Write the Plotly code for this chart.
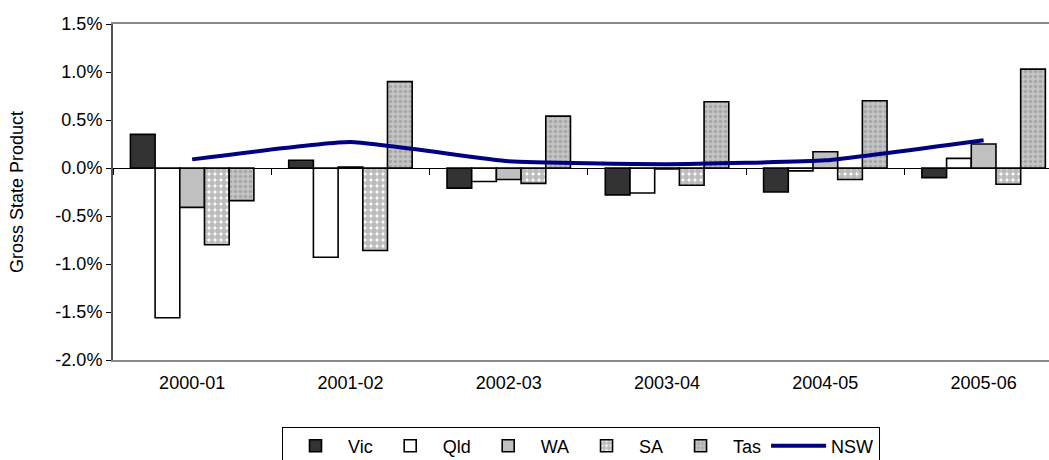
import plotly.graph_objects as go

# Change in Gross State Product, by financial year (percentage points)
years = ["2000-01", "2001-02", "2002-03", "2003-04", "2004-05", "2005-06"]
vic = [0.35, 0.08, -0.21, -0.28, -0.25, -0.10]
qld = [-1.56, -0.93, -0.14, -0.26, -0.03, 0.10]
wa = [-0.41, 0.01, -0.12, -0.01, 0.17, 0.25]
sa = [-0.80, -0.86, -0.16, -0.18, -0.12, -0.17]
tas = [-0.34, 0.90, 0.54, 0.69, 0.70, 1.03]
nsw = [0.09, 0.27, 0.07, 0.04, 0.08, 0.29]

y_ticks = [-2.0, -1.5, -1.0, -0.5, 0.0, 0.5, 1.0, 1.5]
y_tick_text = [f"{v:.1f}%" for v in y_ticks]

FONT = "Liberation Sans, Arial, sans-serif"
FS = 18
EDGE = dict(color="black", width=1.6)

fig = go.Figure()

fig.add_trace(go.Bar(name="Vic", x=years, y=vic,
                     marker=dict(color="#333333", line=EDGE)))
fig.add_trace(go.Bar(name="Qld", x=years, y=qld,
                     marker=dict(color="white", line=EDGE)))
fig.add_trace(go.Bar(name="WA", x=years, y=wa,
                     marker=dict(color="#c0c0c0", line=EDGE)))
fig.add_trace(go.Bar(name="SA", x=years, y=sa,
                     marker=dict(color="white", line=EDGE,
                                 pattern=dict(shape=".", fgcolor="#777777",
                                              bgcolor="white", size=6,
                                              solidity=0.75))))
fig.add_trace(go.Bar(name="Tas", x=years, y=tas,
                     marker=dict(color="#bdbdbd", line=EDGE,
                                 pattern=dict(shape=".", fgcolor="#8a8a8a",
                                              bgcolor="#c4c4c4", size=5,
                                              solidity=0.4))))
fig.add_trace(go.Scatter(name="NSW", x=years, y=nsw, mode="lines",
                         line=dict(color="#000080", width=4,
                                   shape="spline", smoothing=0.4)))

# helper trace so the zero-crossing axis (with category boundary ticks) is drawn
fig.add_trace(go.Scatter(x=[None], y=[None], xaxis="x2", showlegend=False,
                         hoverinfo="skip"))

n = len(years)
x_lo, x_hi = -0.5, n - 0.587
zero_pos = (0 - y_ticks[0]) / (y_ticks[-1] - y_ticks[0])

fig.update_layout(
    width=1049, height=460,
    margin=dict(l=113, r=0, t=24, b=100, autoexpand=False),
    paper_bgcolor="white", plot_bgcolor="white",
    font=dict(family=FONT, size=FS, color="black"),
    barmode="group", bargap=0.22, bargroupgap=0,
    showlegend=True,
    legend=dict(orientation="h", x=0.5, xanchor="center",
                y=-0.198, yanchor="top",
                bordercolor="black", borderwidth=1, bgcolor="white",
                font=dict(family=FONT, size=FS), itemwidth=55,
                traceorder="normal"),
    xaxis=dict(type="category", range=[x_lo, x_hi],
               showline=True, mirror=True, linecolor="#888888", linewidth=2,
               ticks="", showgrid=False, ticklabelstandoff=5,
               tickfont=dict(family=FONT, size=FS)),
    xaxis2=dict(overlaying="x", anchor="free", position=zero_pos,
                range=[x_lo, x_hi], showline=True, linecolor="black",
                linewidth=1, ticks="outside", ticklen=6, tickcolor="black",
                tickvals=[i - 0.5 for i in range(n + 1)],
                showticklabels=False, showgrid=False, zeroline=False),
    yaxis=dict(range=[y_ticks[0], y_ticks[-1]],
               tickmode="array", tickvals=y_ticks, ticktext=y_tick_text,
               showline=True, linecolor="#555555", linewidth=2,
               ticks="outside", ticklen=5, tickcolor="black",
               showgrid=False, zeroline=False,
               tickfont=dict(family=FONT, size=FS),
               title=dict(text="Gross State Product", standoff=27,
                          font=dict(family=FONT, size=FS))),
)

fig.write_html("out.html")
